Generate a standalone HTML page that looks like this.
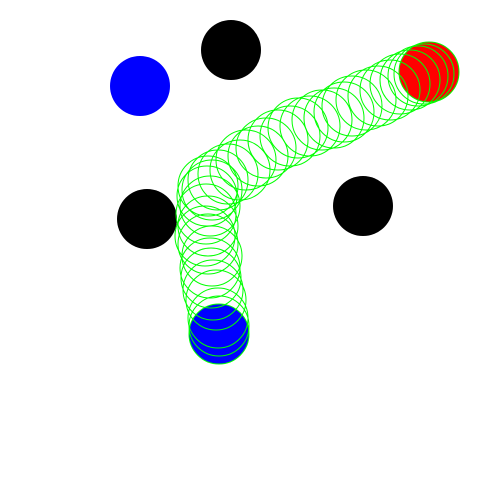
<!DOCTYPE html>
<html><head><meta charset="utf-8"><style>html,body{margin:0;padding:0;background:#fff}svg{display:block}</style></head>
<body>
<svg id="chart" width="500" height="500" viewBox="0 0 500 500">
<rect width="500" height="500" fill="#fff"/>
<g id="obs"></g>
<g id="trail"></g>
</svg>
<script>
const obstacleX=[231,147,363];
const obstacleY=[50,219,206];
const pathX=[219,219,218,216,213,211,210,212,208,205,208,206,210,207,212,208,218,228,240,246,258,266,278,290,298,310,322,334,344,352,366,378,390,400,410,418,424,429];
const pathY=[334,326,318,300,290,278,268,256,244,236,226,214,206,196,190,186,180,174,170,160,156,148,140,136,128,126,120,118,112,106,100,96,90,84,80,76,74,72];
const startPos=[219,334];
const goalPos=[429,72];
const otherAgent=[140,86];
const R=30;
const NS='http://www.w3.org/2000/svg';
function circ(parent,cx,cy,fill,stroke){const c=document.createElementNS(NS,'circle');c.setAttribute('cx',cx);c.setAttribute('cy',cy);c.setAttribute('r',R);c.setAttribute('fill',fill);if(stroke){c.setAttribute('stroke',stroke);c.setAttribute('stroke-width','1');}parent.appendChild(c);return c;}
const obs=document.getElementById('obs');
for(let i=0;i<obstacleX.length;i++){const c=circ(obs,obstacleX[i],obstacleY[i],'#000');

}
const oa=circ(obs,otherAgent[0],otherAgent[1],'#0000ff');


const st=circ(obs,startPos[0],startPos[1],'#0000ff');


const gl=circ(obs,goalPos[0],goalPos[1],'#ff0000');


const tr=document.getElementById('trail');
for(let i=0;i<pathX.length;i++){const c=circ(tr,pathX[i],pathY[i],'none','#00ff00');

}
</script>
</body></html>
